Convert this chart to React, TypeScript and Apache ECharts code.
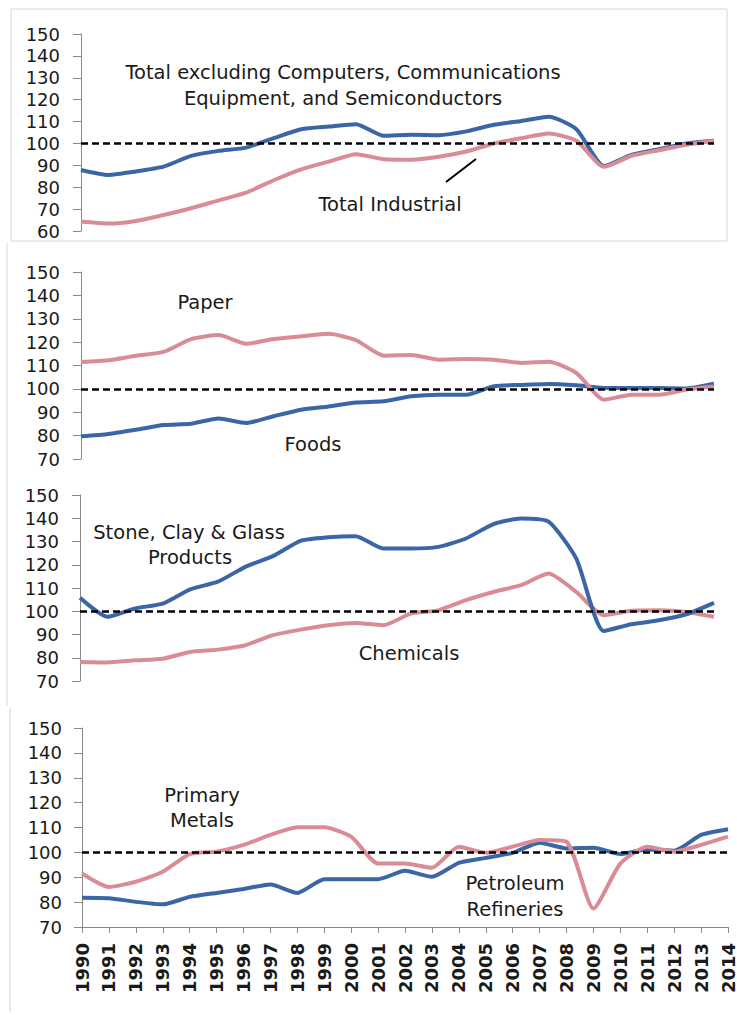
import React, { useEffect, useRef } from "react";
import * as echarts from "echarts";

const yearsTop = ["1990","1991","1992","1993","1994","1995","1996","1997","1998","1999","2000","2001","2002","2003","2004","2005","2006","2007","2008","2009","2010","2011","2012","2013"];
const yearsBottom = ["1990","1991","1992","1993","1994","1995","1996","1997","1998","1999","2000","2001","2002","2003","2004","2005","2006","2007","2008","2009","2010","2011","2012","2013","2014"];

// Panel 1
const totalExclCCS = [87.9, 85.6, 87.2, 89.4, 94.3, 96.6, 98.1, 102.4, 106.5, 107.7, 108.8, 103.5, 104, 103.8, 105.5, 108.5, 110.3, 112.2, 106.5, 89.7, 94.8, 97.4, 100, 101.2];
const totalIndustrial = [64.3, 63.4, 64.6, 67.3, 70.4, 74, 77.5, 83.2, 88.2, 91.7, 95.1, 92.8, 92.6, 93.9, 96.3, 100, 102.4, 104.5, 101.2, 89.3, 94.3, 96.9, 99.4, 101.2];
// Panel 2
const paper = [111.5, 112.2, 114.2, 115.8, 121.3, 123, 119.3, 121.3, 122.5, 123.6, 120.8, 114.2, 114.5, 112.5, 112.8, 112.5, 111.1, 111.6, 106.8, 95.4, 97.5, 97.5, 99.7, 101];
const foods = [79.7, 80.7, 82.5, 84.5, 85.1, 87.3, 85.4, 88.3, 91.1, 92.5, 94.2, 94.7, 96.8, 97.5, 97.5, 101.1, 101.7, 102.1, 101.5, 100.4, 100.4, 100.4, 100.2, 102.2];
// Panel 3
const stoneClayGlass = [105.8, 97.6, 101.2, 103.3, 109.4, 112.7, 119.1, 123.7, 130.3, 131.8, 132.3, 127, 127, 127.7, 131.3, 137.5, 139.9, 138.5, 122.7, 91.5, 94.4, 96.1, 98.7, 103.6];
const chemicals = [78.2, 78, 78.9, 79.6, 82.5, 83.5, 85.4, 89.7, 92.1, 94, 95, 94, 99, 100.4, 104.8, 108.3, 111.2, 116.2, 108.3, 98.3, 100.2, 100.4, 99.7, 97.6];
// Panel 4
const primaryMetals = [91.5, 86.1, 88.2, 92.2, 99.3, 100.3, 103, 107, 110.1, 110.1, 106.3, 95.5, 95.5, 93.8, 102.3, 99.8, 102.3, 105, 104.3, 77.4, 95.5, 102.3, 100.3, 103, 106.3];
const petroleumRefineries = [81.8, 81.6, 80.1, 79.1, 82.1, 83.7, 85.3, 87.1, 83.7, 89.2, 89.2, 89.2, 92.6, 90.2, 95.8, 97.8, 99.8, 103.9, 101.6, 101.9, 99.3, 101.2, 100.7, 107, 109.3];

const baseline = 100;

const BLUE = "#3a66a6";
const PINK = "#d98c95";
const FONT = "'DejaVu Sans', Verdana, sans-serif";
const TEXT = "#1a1a1a";
const AXIS = "#8a8a8a";

export default function App() {
  const ref = useRef<HTMLDivElement>(null);
  useEffect(() => {
    if (!ref.current) return;
    const chart = echarts.init(ref.current, undefined, { renderer: "svg" });

    const grids = [
      { left: 81, width: 633, top: 34, height: 197 },
      { left: 81, width: 633, top: 272, height: 187 },
      { left: 80, width: 634, top: 495, height: 186 },
      { left: 82, width: 648, top: 728, height: 199 },
    ];
    const yRanges = [[60, 150], [70, 150], [70, 150], [70, 150]];

    const xAxes = grids.map((_, i) => {
      const bottom = i === 3;
      return {
        type: "category",
        gridIndex: i,
        data: bottom ? yearsBottom : yearsTop,
        boundaryGap: false,
        axisLine: { show: bottom, lineStyle: { color: AXIS, width: 1 } },
        axisTick: { show: bottom, length: 6, alignWithLabel: true, lineStyle: { color: AXIS } },
        axisLabel: bottom
          ? { show: true, rotate: 90, margin: 16, fontSize: 18, fontWeight: "bold", fontFamily: FONT, color: TEXT, interval: 0 }
          : { show: false },
        splitLine: { show: false },
      };
    });

    const yAxes = grids.map((_, i) => ({
      type: "value",
      gridIndex: i,
      min: yRanges[i][0],
      max: yRanges[i][1],
      interval: 10,
      axisLine: { show: true, lineStyle: { color: AXIS, width: 1 } },
      axisTick: { show: true, length: 8, lineStyle: { color: AXIS } },
      axisLabel: { margin: i === 3 ? 20 : 21, fontSize: 18, fontFamily: FONT, color: TEXT },
      splitLine: { show: false },
    }));

    const mk = {
      silent: true,
      symbol: ["none", "none"],
      label: { show: false },
      lineStyle: { color: "#000", type: [7, 4], width: 2.5 },
      data: [{ yAxis: baseline }],
    };

    const line = (name: string, data: number[], idx: number, color: string, withMark: boolean) => ({
      name,
      type: "line",
      xAxisIndex: idx,
      yAxisIndex: idx,
      data,
      symbol: "none",
      smooth: 0.2,
      lineStyle: { color, width: 4 },
      itemStyle: { color },
      markLine: withMark ? mk : undefined,
      z: 2,
    });

    const series = [
      line("Total excluding Computers, Communications Equipment, and Semiconductors", totalExclCCS, 0, BLUE, false),
      line("Total Industrial", totalIndustrial, 0, PINK, true),
      line("Foods", foods, 1, BLUE, false),
      line("Paper", paper, 1, PINK, true),
      line("Chemicals", chemicals, 2, PINK, false),
      line("Stone, Clay & Glass Products", stoneClayGlass, 2, BLUE, true),
      line("Petroleum Refineries", petroleumRefineries, 3, BLUE, false),
      line("Primary Metals", primaryMetals, 3, PINK, true),
    ];

    const txt = (s: string, x: number, y: number) => ({
      type: "text",
      x,
      y,
      z: 10,
      style: { text: s, fontSize: 19.5, fontFamily: FONT, fill: TEXT, textAlign: "center", textVerticalAlign: "middle" },
    });
    const frame = "#d6d6d6";

    const graphic = [
      { type: "rect", shape: { x: 11, y: 9, width: 716, height: 232 }, style: { fill: "none", stroke: frame, lineWidth: 1 }, z: 0 },
      { type: "line", shape: { x1: 7, y1: 243, x2: 7, y2: 470 }, style: { stroke: frame, lineWidth: 1 }, z: 0 },
      { type: "line", shape: { x1: 7, y1: 470, x2: 7, y2: 706 }, style: { stroke: frame, lineWidth: 1 }, z: 0 },
      { type: "line", shape: { x1: 10, y1: 708, x2: 10, y2: 1012 }, style: { stroke: frame, lineWidth: 1 }, z: 0 },
      txt("Total excluding Computers, Communications", 343, 72),
      txt("Equipment, and Semiconductors", 343, 98),
      txt("Total Industrial", 390, 204),
      { type: "line", shape: { x1: 446, y1: 182, x2: 476, y2: 159 }, style: { stroke: "#000", lineWidth: 2 }, z: 10 },
      txt("Paper", 205, 302),
      txt("Foods", 313, 444),
      txt("Stone, Clay & Glass", 189, 532),
      txt("Products", 190, 557),
      txt("Chemicals", 409, 653),
      txt("Primary", 202, 795),
      txt("Metals", 202, 820),
      txt("Petroleum", 515, 883),
      txt("Refineries", 515, 909),
    ];

    chart.setOption({
      animation: false,
      backgroundColor: "#ffffff",
      grid: grids,
      xAxis: xAxes,
      yAxis: yAxes,
      series,
      graphic,
    });
    return () => chart.dispose();
  }, []);

  return <div ref={ref} style={{ position: "fixed", left: 0, top: 0, width: 737, height: 1015, background: "#fff" }} />;
}
